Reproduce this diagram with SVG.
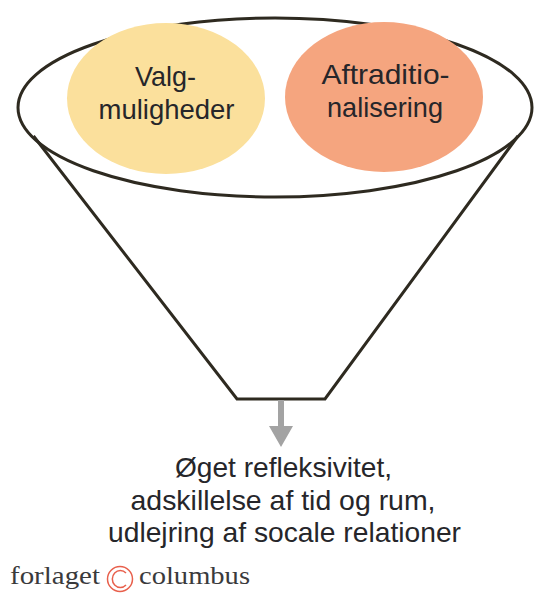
<svg xmlns="http://www.w3.org/2000/svg" width="550" height="596" viewBox="0 0 550 596">
<style>
.line{fill:none;stroke:#2e2a20;stroke-width:3}
.t{font-family:"Liberation Sans",Arial,sans-serif;font-size:28px;fill:#26262a;text-anchor:middle}
.b{font-family:"Liberation Serif",serif;font-size:25px;fill:#3a3a3c}
.c{fill:none;stroke:#e8604c;stroke-width:1.500}
</style>
<rect width="550" height="596" fill="#ffffff"/>
<g id="funnel">
<ellipse class="line" cx="275" cy="107.500" rx="257" ry="89.500"/>
<path class="line" d="M33.500 136L237 399H325L518 136"/>
</g>
<g id="valg">
<ellipse cx="166" cy="98.500" rx="99" ry="75.500" fill="#fbe09c"/>
<text class="t" x="165.500" y="86" textLength="61" lengthAdjust="spacingAndGlyphs">Valg-</text>
<text class="t" x="166.500" y="119" textLength="136" lengthAdjust="spacingAndGlyphs">muligheder</text>
</g>
<g id="aftrad">
<ellipse cx="384" cy="97" rx="99" ry="75" fill="#f5a57f"/>
<text class="t" x="385.500" y="84" textLength="128" lengthAdjust="spacingAndGlyphs">Aftraditio-</text>
<text class="t" x="385" y="117" textLength="116" lengthAdjust="spacingAndGlyphs">nalisering</text>
</g>
<g id="connectors">
<path d="M278 400H284V426H293L281 447L269 426H278Z" fill="#a3a3a3"/>
</g>
<g id="result">
<text class="t" x="283.500" y="477" textLength="217" lengthAdjust="spacingAndGlyphs">Øget refleksivitet,</text>
<text class="t" x="283" y="509.500" textLength="305" lengthAdjust="spacingAndGlyphs">adskillelse af tid og rum,</text>
<text class="t" x="284.500" y="542" textLength="353" lengthAdjust="spacingAndGlyphs">udlejring af socale relationer</text>
</g>
<g id="logo">
<text class="b" x="10" y="584" textLength="90" lengthAdjust="spacingAndGlyphs">forlaget</text>
<circle class="c" cx="120" cy="579" r="12.500"/>
<path class="c" d="M126 573A8 8.500 0 1 0 126 585"/>
<text class="b" x="139" y="584" textLength="111" lengthAdjust="spacingAndGlyphs">columbus</text>
</g>
</svg>
